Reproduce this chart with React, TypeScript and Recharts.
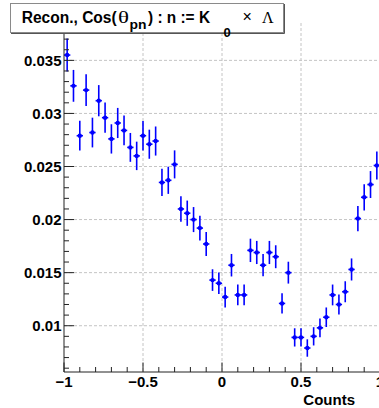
import React from "react";
import { ScatterChart, Scatter, XAxis, YAxis, CartesianGrid, ErrorBar } from "recharts";

// bin centres of cos(theta_pn), 50 bins of width 0.04
const binCenters = [
  -0.98, -0.94, -0.9, -0.86, -0.82, -0.78, -0.74, -0.7, -0.66, -0.62,
  -0.58, -0.54, -0.5, -0.46, -0.42, -0.38, -0.34, -0.3, -0.26, -0.22,
  -0.18, -0.14, -0.1, -0.06, -0.02, 0.02, 0.06, 0.1, 0.14, 0.18,
  0.22, 0.26, 0.3, 0.34, 0.38, 0.42, 0.46, 0.5, 0.54, 0.58,
  0.62, 0.66, 0.7, 0.74, 0.78, 0.82, 0.86, 0.9, 0.94, 0.98,
];

const counts = [
  0.0355, 0.0326, 0.0279, 0.0322, 0.0282, 0.0312, 0.0296, 0.0276, 0.0291, 0.0284,
  0.0268, 0.026, 0.0279, 0.0271, 0.0274, 0.0235, 0.0237, 0.0252, 0.021, 0.0206,
  0.02, 0.0192, 0.0177, 0.0143, 0.014, 0.0127, 0.0157, 0.0129, 0.0129, 0.0171,
  0.0169, 0.0157, 0.0169, 0.0165, 0.0121, 0.015, 0.0089, 0.0089, 0.0079, 0.009,
  0.0098, 0.0108, 0.0129, 0.012, 0.0132, 0.0153, 0.0201, 0.0221, 0.0233, 0.0251,
];

const countErrors = [
  0.00156, 0.0015, 0.0014, 0.00149, 0.0014, 0.00147, 0.00143, 0.00138, 0.00142, 0.0014,
  0.00136, 0.00134, 0.00139, 0.00137, 0.00137, 0.00128, 0.00128, 0.00132, 0.0012, 0.00119,
  0.00118, 0.00116, 0.00112, 0.00102, 0.00101, 0.00098, 0.00106, 0.00098, 0.00098, 0.0011,
  0.00109, 0.00105, 0.00109, 0.00108, 0.00095, 0.00103, 0.00086, 0.00086, 0.00082, 0.00086,
  0.00089, 0.00092, 0.00098, 0.00095, 0.00099, 0.00104, 0.00119, 0.00124, 0.00127, 0.00132,
];

const binHalfWidth = 0.02;

const xTicks = [-1, -0.9, -0.8, -0.7, -0.6, -0.5, -0.4, -0.3, -0.2, -0.1, 0, 0.1, 0.2, 0.3, 0.4, 0.5, 0.6, 0.7, 0.8, 0.9, 1];
const xMajorTicks = [-1, -0.5, 0, 0.5, 1];
const yTicks = [
  0.006, 0.007, 0.008, 0.009, 0.01, 0.011, 0.012, 0.013, 0.014, 0.015, 0.016,
  0.017, 0.018, 0.019, 0.02, 0.021, 0.022, 0.023, 0.024, 0.025, 0.026, 0.027,
  0.028, 0.029, 0.03, 0.031, 0.032, 0.033, 0.034, 0.035, 0.036, 0.037, 0.038,
];
const yMajorTicks = [0.01, 0.015, 0.02, 0.025, 0.03, 0.035];
const xGridValues = [-0.5, 0, 0.5];

const data = binCenters.map((x, i) => ({ x, y: counts[i], ey: countErrors[i], ex: binHalfWidth }));

const FONT = "'Liberation Sans', Arial, Helvetica, sans-serif";
const AXIS = "#222";
const BLUE = "#0000ff";

const isMajor = (v: number, majors: number[]) => majors.some((m) => Math.abs(m - v) < 1e-9);
const fmt = (v: number) => (v < 0 ? "\u2212" + String(Math.abs(v)) : String(v));

const LeftTick = (props: any) => {
  const { x, y, payload } = props;
  const major = isMajor(payload.value, yMajorTicks);
  return (
    <g>
      <line x1={x} x2={x + (major ? 10 : 5)} y1={y} y2={y} stroke={AXIS} />
      {major && (
        <text x={x - 2.5} y={y + 5.3} textAnchor="end" fontFamily={FONT} fontWeight="bold" fontSize={15} fill="#000">
          {String(payload.value)}
        </text>
      )}
    </g>
  );
};

const RightTick = (props: any) => {
  const { x, y, payload } = props;
  const major = isMajor(payload.value, yMajorTicks);
  return <line x1={x} x2={x - (major ? 10 : 5)} y1={y} y2={y} stroke={AXIS} />;
};

const BottomTick = (props: any) => {
  const { x, y, payload } = props;
  const major = isMajor(payload.value, xMajorTicks);
  return (
    <g>
      <line x1={x} x2={x} y1={y} y2={y - (major ? 9.5 : 5)} stroke={AXIS} />
      {major && (
        <text x={x} y={y + 15} textAnchor="middle" fontFamily={FONT} fontWeight="bold" fontSize={15} fill="#000">
          {fmt(payload.value)}
        </text>
      )}
    </g>
  );
};

const TopTick = (props: any) => {
  const { x, y, payload } = props;
  const major = isMajor(payload.value, xMajorTicks);
  return <line x1={x} x2={x} y1={y} y2={y + (major ? 9.5 : 5)} stroke={AXIS} />;
};

const Marker = (props: any) => <circle cx={props.cx} cy={props.cy} r={2.2} fill={BLUE} />;

export default function App() {
  return (
    <div style={{ position: "absolute", left: 0, top: 0, width: 379, height: 408, overflow: "hidden", background: "#fff" }}>
      <ScatterChart width={382} height={408} margin={{ top: 23, right: 2, bottom: 0, left: 0 }}>
        <CartesianGrid
          stroke="#c4c4c4"
          strokeDasharray="3 2"
          horizontalValues={yMajorTicks}
          verticalValues={xGridValues}
        />
        <XAxis
          dataKey="x"
          type="number"
          domain={[-1, 1]}
          ticks={xTicks}
          interval={0}
          height={36}
          tickSize={0}
          tickMargin={0}
          tickLine={false}
          axisLine={{ stroke: AXIS }}
          tick={BottomTick}
          allowDataOverflow
        />
        <XAxis
          xAxisId="top"
          orientation="top"
          type="number"
          domain={[-1, 1]}
          ticks={xTicks}
          interval={0}
          height={0}
          tickSize={0}
          tickMargin={0}
          tickLine={false}
          axisLine={{ stroke: AXIS }}
          tick={TopTick}
          allowDataOverflow
        />
        <YAxis
          dataKey="y"
          type="number"
          domain={[0.00564, 0.03852]}
          ticks={yTicks}
          interval={0}
          width={64}
          tickSize={0}
          tickMargin={0}
          tickLine={false}
          axisLine={{ stroke: AXIS }}
          tick={LeftTick}
          allowDataOverflow
        />
        <YAxis
          yAxisId="right"
          orientation="right"
          type="number"
          domain={[0.00564, 0.03852]}
          ticks={yTicks}
          interval={0}
          width={0}
          tickSize={0}
          tickMargin={0}
          tickLine={false}
          axisLine={{ stroke: AXIS }}
          tick={RightTick}
          allowDataOverflow
        />
        <Scatter data={data} shape={Marker} isAnimationActive={false}>
          <ErrorBar dataKey="ey" direction="y" width={0} stroke={BLUE} strokeWidth={1.6} isAnimationActive={false} />
          <ErrorBar dataKey="ex" direction="x" width={0} stroke={BLUE} strokeWidth={1.6} isAnimationActive={false} />
        </Scatter>
      </ScatterChart>

      <svg width={379} height={408} style={{ position: "absolute", left: 0, top: 0, pointerEvents: "none" }}>
        <rect x={10.5} y={3.5} width={273} height={29} fill="#fff" stroke="#8a8a8a" />
        <line x1={284.5} y1={4} x2={284.5} y2={33.5} stroke="#555" />
        <line x1={11} y1={33.5} x2={284.5} y2={33.5} stroke="#555" />
        <g fontFamily={FONT} fill="#000">
          <text x={21.7} y={23} fontSize={16} fontWeight="bold" textLength={95} lengthAdjust="spacingAndGlyphs">
            Recon., Cos(
          </text>
          <text x={118} y={23} fontSize={16} fontFamily="'Liberation Serif', serif" textLength={11} lengthAdjust="spacingAndGlyphs">
            θ
          </text>
          <text x={129.5} y={28.5} fontSize={12} fontWeight="bold" textLength={17} lengthAdjust="spacingAndGlyphs">
            pn
          </text>
          <text x={148} y={23} fontSize={16} fontWeight="bold" textLength={62} lengthAdjust="spacingAndGlyphs">
            {") : n := K"}
          </text>
          <text x={223.5} y={36.5} fontSize={13} fontWeight="bold">
            0
          </text>
          <text x={242.5} y={21.5} fontSize={16}>
            ×
          </text>
          <text x={262} y={23} fontSize={16} fontFamily="'Liberation Serif', serif">
            Λ
          </text>
          <text x={355} y={404.5} fontSize={15} fontWeight="bold" textAnchor="end">
            Counts
          </text>
        </g>
      </svg>
    </div>
  );
}
